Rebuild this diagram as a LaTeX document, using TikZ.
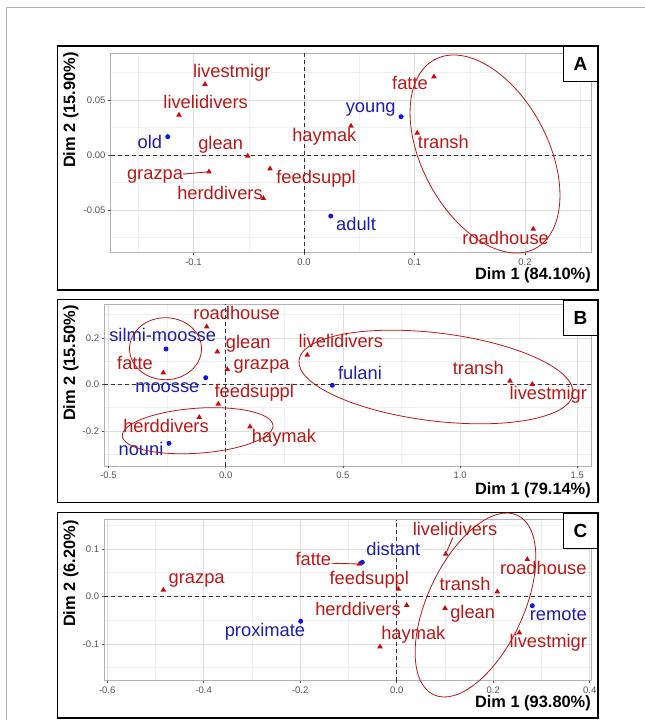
\documentclass[tikz,border=0pt]{standalone}
\usepackage{fontspec}
\setmainfont{Liberation Sans}
\usetikzlibrary{shapes.geometric}
\definecolor{rowblue}{RGB}{30,30,170}
\definecolor{rowdot}{RGB}{20,20,225}
\definecolor{colred}{RGB}{185,25,25}
\definecolor{coltri}{RGB}{200,10,10}
\definecolor{gridmaj}{RGB}{222,222,222}
\definecolor{gridmin}{RGB}{240,240,240}
\definecolor{tickgray}{RGB}{85,85,85}

\begin{document}
\begin{tikzpicture}[x=1pt,y=-1pt,
  rowlbl/.style={text=rowblue,font=\fontsize{18.3}{20}\selectfont,inner sep=0pt,text height=0.72em,text depth=0.2em},
  collbl/.style={rowlbl,text=colred},
  rowpt/.style={circle,fill=rowdot,inner sep=0pt,minimum size=5pt},
  colpt/.style={regular polygon,regular polygon sides=3,fill=coltri,inner sep=0pt,minimum size=6.5pt},
  ticklbl/.style={font=\fontsize{9.5}{11}\selectfont,text=tickgray,inner sep=0pt},
  axttl/.style={font=\fontsize{16.4}{18}\selectfont\bfseries,inner sep=0pt},
  paneltag/.style={draw,line width=1.2pt,fill=white,font=\fontsize{19}{21}\selectfont\bfseries,minimum width=34pt,minimum height=35pt,inner sep=0pt,anchor=north east},
  minor/.style={gridmin,line width=0.4pt},
  major/.style={gridmaj,line width=0.6pt},
  zeroline/.style={black!80,line width=0.9pt,dash pattern=on 4pt off 3pt},
  repel/.style={colred,line width=0.9pt},
  grp/.style={colred,line width=0.8pt}]

\fill[white] (0,0) rectangle (645,720);
\useasboundingbox (0,0) rectangle (645,720);
\draw[black!30,line width=0.9pt] (6,720) -- (6,7.3) -- (645,7.3);

% ---------------- panel A
\draw[line width=1.2pt] (57.3,46) rectangle (598,290);
\begin{scope}[shift={(304,155)},x=1105pt,y=1100pt]
  \foreach \gx in {-0.15,-0.05,0.05,0.15,0.25} \draw[minor] (\gx,-0.0888) -- (\gx,0.0925);
  \foreach \gy in {-0.075,-0.025,0.025,0.075} \draw[minor] (-0.175,\gy) -- (0.26,\gy);
  \foreach \gx in {-0.1,0,0.1,0.2} \draw[major] (\gx,-0.0888) -- (\gx,0.0925);
  \foreach \gy in {-0.05,0,0.05} \draw[major] (-0.175,\gy) -- (0.26,\gy);
  \draw[black!30,line width=0.8pt] (-0.175,-0.0888) rectangle (0.26,0.0925);
  \foreach \gx/\t in {-0.1/-0.1,0/0.0,0.1/0.1,0.2/0.2}{
    \draw[tickgray,line width=0.5pt] (\gx,-0.0888) -- ++(0,-2.5pt);
    \node[ticklbl,anchor=north,yshift=-6pt] at (\gx,-0.0888) {\t};
  }
  \foreach \gy/\t in {-0.05/-0.05,0/0.00,0.05/0.05}{
    \draw[tickgray,line width=0.5pt] (-0.175,\gy) -- ++(-2.5pt,0);
    \node[ticklbl,anchor=east,xshift=-5pt] at (-0.175,\gy) {\t};
  }
  \draw[zeroline] (0,-0.0888) -- (0,0.0925);
  \draw[zeroline] (-0.175,0) -- (0.26,0);
  % column points
  \foreach \n/\px/\py/\lx/\ly/\t in {
    lm/-0.0896/0.0643/-0.0654/0.0727/livestmigr,
    ld/-0.1131/0.0364/-0.089/0.0448/livelidivers,
    gl/-0.0509/-0.0009/-0.0754/0.0075/glean,
    gz/-0.086/-0.0152/-0.1348/-0.0197/grazpa,
    fs/-0.0308/-0.0125/0.0109/-0.0234/feedsuppl,
    hd/-0.0368/-0.0394/-0.076/-0.0379/herddivers,
    hm/0.0425/0.0264/0.0184/0.0143/haymak,
    ft/0.1176/0.0712/0.0959/0.0615/fatte,
    tr/0.1025/0.02/0.1261/0.0085/transh,
    rh/0.2075/-0.0673/0.1825/-0.0788/roadhouse}{
    \node[colpt] (a-\n) at (\px,\py) {};
    \node[collbl] (a-\n-t) at (\lx,\ly) {\t};
  }
  % row points
  \foreach \n/\px/\py/\lx/\ly/\t in {
    od/-0.1233/0.0166/-0.1394/0.0085/old,
    yg/0.0878/0.0348/0.0604/0.0409/young,
    ad/0.0242/-0.0555/0.0471/-0.0661/adult}{
    \node[rowpt] (a-\n) at (\px,\py) {};
    \node[rowlbl] (a-\n-t) at (\lx,\ly) {\t};
  }
  \draw[repel] (a-gz-t) -- (a-gz);
  \draw[grp,rotate around={-62:(0.1638,0.0009)}] (0.1638,0.0009) ellipse [x radius=107pt,y radius=63pt];
\end{scope}
\node[axttl,anchor=east] (a-xt) at (591,275) {Dim 1 (84.10\%)};
\node[axttl,rotate=90,anchor=east] (a-yt) at (71,52) {Dim 2 (15.90\%)};
\node[paneltag] (tagA) at (598,46) {A};

% ---------------- panel B
\draw[line width=1.2pt] (57.3,299.5) rectangle (598,502.7);
\begin{scope}[shift={(225.7,384.3)},x=234.4pt,y=232.5pt]
  \foreach \gx in {-0.25,0.25,0.75,1.25} \draw[minor] (\gx,-0.351) -- (\gx,0.345);
  \foreach \gy in {-0.3,-0.1,0.1,0.3} \draw[minor] (-0.518,\gy) -- (1.558,\gy);
  \foreach \gx in {-0.5,0,0.5,1,1.5} \draw[major] (\gx,-0.351) -- (\gx,0.345);
  \foreach \gy in {-0.2,0,0.2} \draw[major] (-0.518,\gy) -- (1.558,\gy);
  \draw[black!30,line width=0.8pt] (-0.518,-0.351) rectangle (1.558,0.345);
  \foreach \gx/\t in {-0.5/-0.5,0/0.0,0.5/0.5,1/1.0,1.5/1.5}{
    \draw[tickgray,line width=0.5pt] (\gx,-0.351) -- ++(0,-2.5pt);
    \node[ticklbl,anchor=north,yshift=-6pt] at (\gx,-0.351) {\t};
  }
  \foreach \gy/\t in {-0.2/-0.2,0/0.0,0.2/0.2}{
    \draw[tickgray,line width=0.5pt] (-0.518,\gy) -- ++(-2.5pt,0);
    \node[ticklbl,anchor=east,xshift=-5pt] at (-0.518,\gy) {\t};
  }
  \draw[zeroline] (0,-0.351) -- (0,0.345);
  \draw[zeroline] (-0.518,0) -- (1.558,0);
  \foreach \n/\px/\py/\lx/\ly/\t in {
    rh/-0.0811/0.2477/0.0469/0.2882/roadhouse,
    gl/-0.0358/0.1402/0.0964/0.1647/glean,
    gz/0.0068/0.0645/0.1536/0.0731/grazpa,
    ft/-0.2662/0.0499/-0.387/0.0731/fatte,
    fs/-0.0316/-0.0847/0.122/-0.046/feedsuppl,
    hd/-0.1126/-0.1419/-0.2547/-0.1966/herddivers,
    hm/0.1037/-0.1824/0.2487/-0.2396/haymak,
    ld/0.3481/0.126/0.491/0.169/livelidivers,
    tr/1.2129/0.0142/1.0777/0.0516/transh,
    lm/1.308/0/1.3763/-0.0559/livestmigr}{
    \node[colpt] (b-\n) at (\px,\py) {};
    \node[collbl] (b-\n-t) at (\lx,\ly) {\t};
  }
  \foreach \n/\px/\py/\lx/\ly/\t in {
    sm/-0.2547/0.1518/-0.2688/0.1948/silmi-moosse,
    mo/-0.0853/0.0284/-0.2491/-0.0245/moosse,
    nu/-0.2419/-0.2538/-0.3614/-0.2968/nouni,
    fu/0.4548/-0.0043/0.573/0.0327/fulani}{
    \node[rowpt] (b-\n) at (\px,\py) {};
    \node[rowlbl] (b-\n-t) at (\lx,\ly) {\t};
  }
  \draw[grp] (-0.2568,0.1531) ellipse [x radius=36pt,y radius=31pt];
  \draw[grp,rotate around={4:(-0.1195,-0.1996)}] (-0.1195,-0.1996) ellipse [x radius=75.5pt,y radius=22.5pt];
  \draw[grp,rotate around={-7:(0.8972,0.0314)}] (0.8972,0.0314) ellipse [x radius=138pt,y radius=44pt];
\end{scope}
\node[axttl,anchor=east] (b-xt) at (591,490) {Dim 1 (79.14\%)};
\node[axttl,rotate=90,anchor=east] (b-yt) at (71,305) {Dim 2 (15.50\%)};
\node[paneltag] (tagB) at (598,299.5) {B};

% ---------------- panel C
\draw[line width=1.2pt] (57.3,512.7) rectangle (598,718);
\begin{scope}[shift={(396.7,596.3)},x=482.5pt,y=475pt]
  \foreach \gx in {-0.5,-0.3,-0.1,0.1,0.3} \draw[minor] (\gx,-0.178) -- (\gx,0.161);
  \foreach \gy in {-0.15,-0.05,0.05,0.15} \draw[minor] (-0.606,\gy) -- (0.404,\gy);
  \foreach \gx in {-0.6,-0.4,-0.2,0,0.2,0.4} \draw[major] (\gx,-0.178) -- (\gx,0.161);
  \foreach \gy in {-0.1,0,0.1} \draw[major] (-0.606,\gy) -- (0.404,\gy);
  \draw[black!30,line width=0.8pt] (-0.606,-0.178) rectangle (0.404,0.161);
  \foreach \gx/\t in {-0.6/-0.6,-0.4/-0.4,-0.2/-0.2,0/0.0,0.2/0.2,0.4/0.4}{
    \draw[tickgray,line width=0.5pt] (\gx,-0.178) -- ++(0,-2.5pt);
    \node[ticklbl,anchor=north,yshift=-6pt] at (\gx,-0.178) {\t};
  }
  \foreach \gy/\t in {-0.1/-0.1,0/0.0,0.1/0.1}{
    \draw[tickgray,line width=0.5pt] (-0.606,\gy) -- ++(-2.5pt,0);
    \node[ticklbl,anchor=east,xshift=-5pt] at (-0.606,\gy) {\t};
  }
  \draw[zeroline] (0,-0.178) -- (0,0.161);
  \draw[zeroline] (-0.606,0) -- (0.404,0);
  \foreach \n/\px/\py/\lx/\ly/\t in {
    gz/-0.4837/0.0133/-0.4145/0.0322/grazpa,
    ft/-0.0775/0.068/-0.1728/0.0707/fatte,
    fs/0.0033/0.0154/-0.0568/0.0307/feedsuppl,
    hd/0.0207/-0.0189/-0.0802/-0.0358/herddivers,
    hm/-0.0346/-0.1061/0.0344/-0.085/haymak,
    ld/0.1016/0.0891/0.1208/0.1339/livelidivers,
    gl/0.1001/-0.0253/0.1575/-0.0415/glean,
    tr/0.2085/0.0097/0.1416/0.0181/transh,
    rh/0.2707/0.0779/0.3038/0.0518/roadhouse,
    lm/0.2541/-0.0766/0.3142/-0.1025/livestmigr}{
    \node[colpt] (c-\n) at (\px,\py) {};
    \node[collbl] (c-\n-t) at (\lx,\ly) {\t};
  }
  \foreach \n/\px/\py/\lx/\ly/\t in {
    px/-0.199/-0.0526/-0.273/-0.08/proximate,
    ds/-0.0713/0.0716/-0.007/0.0918/distant,
    rm/0.281/-0.0198/0.3349/-0.0451/remote}{
    \node[rowpt] (c-\n) at (\px,\py) {};
    \node[rowlbl] (c-\n-t) at (\lx,\ly) {\t};
  }
  \draw[repel] (c-ft-t) -- (c-ft);
  \draw[repel] (c-ld-t) -- (c-ld);
  \draw[grp,rotate around={65:(0.1633,-0.0183)}] (0.1633,-0.0183) ellipse [x radius=99pt,y radius=48pt];
\end{scope}
\node[axttl,anchor=east] (c-xt) at (591,703) {Dim 1 (93.80\%)};
\node[axttl,rotate=90,anchor=east] (c-yt) at (71,520) {Dim 2 (6.20\%)};
\node[paneltag] (tagC) at (598,512.7) {C};
\end{tikzpicture}
\end{document}
